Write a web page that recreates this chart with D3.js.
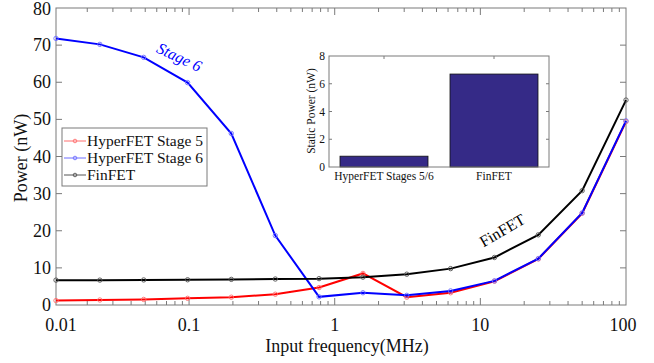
<!DOCTYPE html>
<html><head><meta charset="utf-8">
<script src="https://cdn.jsdelivr.net/npm/d3@7"></script>
<style>
html,body{margin:0;padding:0;background:#fff;}
svg{display:block;font-family:"Liberation Serif","Times New Roman",serif;}
</style></head>
<body><svg id="c" width="654" height="363"></svg>
<script>
const freqs = [0.0122, 0.0244, 0.0488, 0.0977, 0.195, 0.391, 0.781, 1.5625, 3.125, 6.25, 12.5, 25, 50, 100];
const stage5 = [1.2, 1.35, 1.5, 1.8, 2.1, 2.9, 4.7, 8.5, 2.1, 3.3, 6.4, 12.4, 24.7, 49.4];
const stage6 = [71.8, 70.2, 66.7, 59.9, 46.2, 18.7, 2.2, 3.3, 2.6, 3.8, 6.5, 12.5, 24.8, 49.6];
const finfet = [6.7, 6.7, 6.75, 6.8, 6.9, 7.0, 7.1, 7.5, 8.3, 9.8, 12.8, 18.9, 30.8, 55.2];
const seriesNames = ["HyperFET Stage 5", "HyperFET Stage 6", "FinFET"];
const xTickVals = [0.0122, 0.1, 1, 10, 100];
const xTickLabels = ["0.01", "0.1", "1", "10", "100"];
const yTicks = [0, 10, 20, 30, 40, 50, 60, 70, 80];
const insetCats = ["HyperFET Stages 5/6", "FinFET"];
const insetVals = [0.78, 6.7];
const insetTicks = [0, 2, 4, 6, 8];

const svg = d3.select("#c");
const L = 56, R = 626, T = 8, B = 305;
const x = d3.scaleLog().domain([0.0122, 100]).range([L, R]);
const y = d3.scaleLinear().domain([0, 80]).range([B, T]);
const axisCol = "#7a7a7a";

const minor = [];
[0.01, 0.1, 1, 10].forEach(d => { for (let k = 2; k <= 9; k++) { const v = d * k; if (v > 0.0122 && v < 100) minor.push(v); } });

const g = svg.append("g");
function xAxisTicks(yPos, dir) {
  g.append("g").selectAll("line.mi").data(minor).join("line")
    .attr("x1", d => x(d)).attr("x2", d => x(d))
    .attr("y1", yPos).attr("y2", yPos + dir * 4).attr("stroke", axisCol);
  g.append("g").selectAll("line.ma").data(xTickVals.slice(1, 4)).join("line")
    .attr("x1", d => x(d)).attr("x2", d => x(d))
    .attr("y1", yPos).attr("y2", yPos + dir * 7).attr("stroke", axisCol);
}
xAxisTicks(B, -1);
xAxisTicks(T, 1);
g.append("g").selectAll("line").data(yTicks.slice(1, -1)).join("line")
  .attr("x1", L).attr("x2", L + 6).attr("y1", d => y(d)).attr("y2", d => y(d)).attr("stroke", axisCol);
g.append("g").selectAll("line").data(yTicks.slice(1, -1)).join("line")
  .attr("x1", R).attr("x2", R - 6).attr("y1", d => y(d)).attr("y2", d => y(d)).attr("stroke", axisCol);
g.append("rect").attr("x", L).attr("y", T).attr("width", R - L).attr("height", B - T)
  .attr("fill", "none").attr("stroke", axisCol);

g.append("g").selectAll("text").data(xTickVals).join("text")
  .attr("x", (d, i) => x(d) + (i === 0 ? 5 : (i === 4 ? -3 : 0)))
  .attr("y", 331).attr("text-anchor", "middle").attr("font-size", 18).attr("fill", "#111")
  .text((d, i) => xTickLabels[i]);
g.append("g").selectAll("text").data(yTicks).join("text")
  .attr("x", 51).attr("y", d => Math.max(y(d) + 6, 15)).attr("text-anchor", "end").attr("font-size", 18).attr("fill", "#111")
  .text(d => d);
g.append("text").attr("x", 347).attr("y", 352).attr("text-anchor", "middle").attr("font-size", 18)
  .attr("fill", "#111").text("Input frequency(MHz)");
g.append("text").attr("transform", "translate(27,158) rotate(-90)").attr("text-anchor", "middle")
  .attr("font-size", 18).attr("fill", "#111").text("Power (nW)");

const seriesData = [
  { name: seriesNames[0], vals: stage5, col: "#ff0000", mk: "#ff6f6f" },
  { name: seriesNames[1], vals: stage6, col: "#0000ff", mk: "#6f6fff" },
  { name: seriesNames[2], vals: finfet, col: "#000000", mk: "#555555" }
];
const line = d3.line().x(d => x(d[0])).y(d => y(d[1]));
seriesData.forEach(s => {
  const pts = freqs.map((f, i) => [f, s.vals[i]]);
  g.append("path").datum(pts).attr("d", line).attr("fill", "none").attr("stroke", s.col).attr("stroke-width", 2);
  g.append("g").selectAll("circle").data(pts).join("circle")
    .attr("cx", d => x(d[0])).attr("cy", d => y(d[1])).attr("r", 2.2)
    .attr("fill", "none").attr("stroke", s.mk).attr("stroke-width", 0.9);
});

g.append("text").attr("transform", "translate(177,62) rotate(25)").attr("text-anchor", "middle")
  .attr("font-size", 16).attr("font-style", "italic").attr("fill", "#0000ff").text("Stage 6");
g.append("text").attr("transform", "translate(505,235) rotate(-30)").attr("text-anchor", "middle")
  .attr("font-size", 16).attr("fill", "#000").text("FinFET");

const lg = g.append("g");
lg.append("rect").attr("x", 62).attr("y", 128).attr("width", 145).attr("height", 58)
  .attr("fill", "#fff").attr("stroke", axisCol);
seriesData.forEach((s, i) => {
  const yy = 141 + i * 17;
  lg.append("line").attr("x1", 64).attr("x2", 86).attr("y1", yy).attr("y2", yy)
    .attr("stroke", s.mk).attr("stroke-width", 1);
  lg.append("circle").attr("cx", 75).attr("cy", yy).attr("r", 1.8).attr("fill", "none")
    .attr("stroke", s.mk).attr("stroke-width", 0.9);
  lg.append("text").attr("x", 87).attr("y", yy + 5).attr("font-size", 15.5).attr("fill", "#111").text(s.name);
});

const IL = 329, IR = 549, IT = 56, IB = 167;
const ix = d3.scaleBand().domain(insetCats).range([IL, IR]).paddingInner(0.2).paddingOuter(0.1);
const iy = d3.scaleLinear().domain([0, 8]).range([IB, IT]);
const ig = svg.append("g");
ig.append("rect").attr("x", IL).attr("y", IT).attr("width", IR - IL).attr("height", IB - IT).attr("fill", "#fff");
ig.append("g").selectAll("rect").data(insetCats).join("rect")
  .attr("x", d => ix(d)).attr("width", ix.bandwidth())
  .attr("y", (d, i) => iy(insetVals[i])).attr("height", (d, i) => IB - iy(insetVals[i]))
  .attr("fill", "#352a87").attr("stroke", "#111").attr("stroke-width", 0.8);
ig.append("g").selectAll("line").data(insetTicks.slice(1, -1)).join("line")
  .attr("x1", IL).attr("x2", IL + 3).attr("y1", d => iy(d)).attr("y2", d => iy(d)).attr("stroke", axisCol);
ig.append("g").selectAll("line").data(insetTicks.slice(1, -1)).join("line")
  .attr("x1", IR).attr("x2", IR - 3).attr("y1", d => iy(d)).attr("y2", d => iy(d)).attr("stroke", axisCol);
ig.append("g").selectAll("line").data(insetCats).join("line")
  .attr("x1", d => ix(d) + ix.bandwidth() / 2).attr("x2", d => ix(d) + ix.bandwidth() / 2)
  .attr("y1", IT).attr("y2", IT + 3).attr("stroke", axisCol);
ig.append("rect").attr("x", IL).attr("y", IT).attr("width", IR - IL).attr("height", IB - IT)
  .attr("fill", "none").attr("stroke", axisCol);
ig.append("g").selectAll("text").data(insetTicks).join("text")
  .attr("x", IL - 4).attr("y", d => iy(d) + 4).attr("text-anchor", "end").attr("font-size", 11.5)
  .attr("fill", "#111").text(d => d);
ig.append("g").selectAll("text").data(insetCats).join("text")
  .attr("x", d => ix(d) + ix.bandwidth() / 2).attr("y", 180).attr("text-anchor", "middle")
  .attr("font-size", 11.5).attr("fill", "#111").text(d => d);
ig.append("text").attr("transform", "translate(315,111) rotate(-90)").attr("text-anchor", "middle")
  .attr("font-size", 11.5).attr("fill", "#111").text("Static Power (nW)");
</script></body></html>
